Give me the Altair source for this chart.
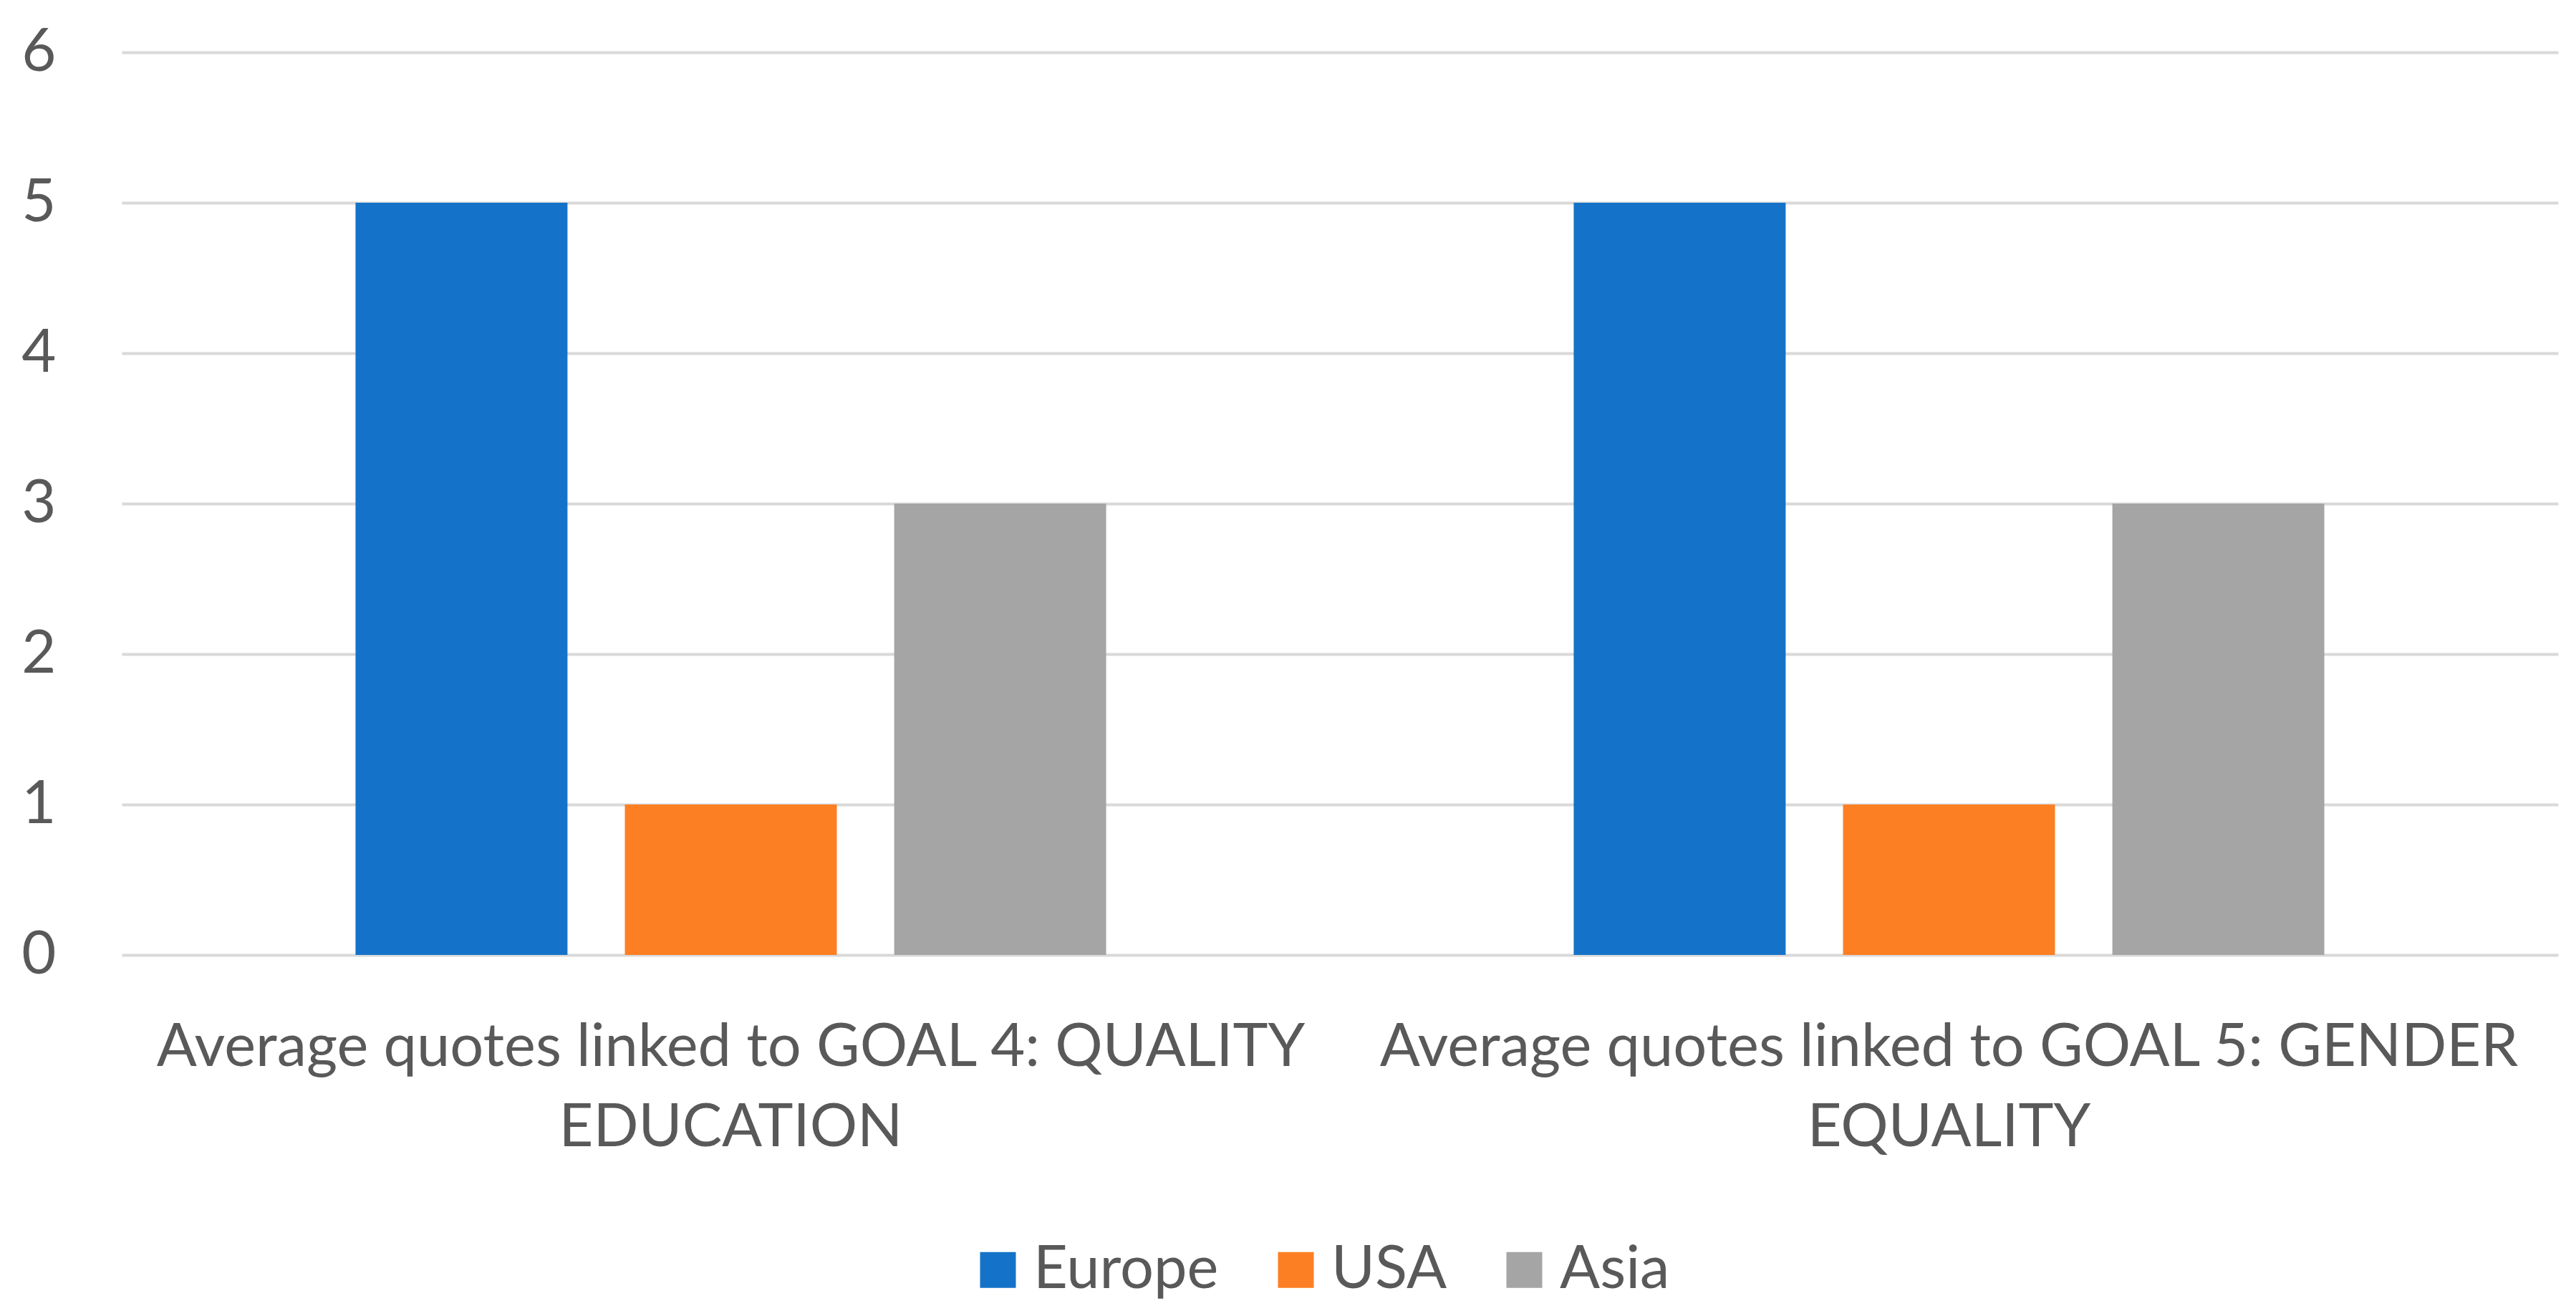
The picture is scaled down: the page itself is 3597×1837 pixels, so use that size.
import json
import altair as alt
import pandas as pd

goals = [
    "Average quotes linked to GOAL 4: QUALITY EDUCATION",
    "Average quotes linked to GOAL 5: GENDER EQUALITY",
]
goal_lines = [
    ["Average quotes linked to GOAL 4: QUALITY", "EDUCATION"],
    ["Average quotes linked to GOAL 5: GENDER", "EQUALITY"],
]
regions = ["Europe", "USA", "Asia"]
europe = [5, 5]
usa = [1, 1]
asia = [3, 3]
colors = ["#1473C8", "#FD7F23", "#A5A5A5"]
y_ticks = [0, 1, 2, 3, 4, 5, 6]

series = {"Europe": europe, "USA": usa, "Asia": asia}
rows = []
for r in regions:
    for g, v in zip(goals, series[r]):
        rows.append({"goal": g, "region": r, "value": v})
df = pd.DataFrame(rows)

label_expr = ""
for g, lines in zip(goals, goal_lines):
    label_expr += f"datum.value == {json.dumps(g)} ? {json.dumps(lines)} : "
label_expr += "datum.label"

FONT = "Lato"
TXT = "#595959"

chart = alt.Chart(df).mark_bar().encode(
    x=alt.X(
        "goal:N",
        sort=goals,
        scale=alt.Scale(paddingInner=0, paddingOuter=0),
        axis=alt.Axis(
            title=None, labelExpr=label_expr, labelAngle=0, labelFontSize=83,
            labelFont=FONT, labelColor=TXT, labelPadding=88, domain=False,
            ticks=False, labelLineHeight=112, labelLimit=0, labelBaseline="top",
        ),
    ),
    xOffset=alt.XOffset(
        "region:N", sort=regions,
        scale=alt.Scale(paddingInner=0.213, paddingOuter=0.868),
    ),
    y=alt.Y(
        "value:Q",
        scale=alt.Scale(domain=[0, 6]),
        axis=alt.Axis(
            values=y_ticks, title=None, domain=False, ticks=False,
            labelFontSize=83, labelFont=FONT, labelColor=TXT, labelPadding=92,
            gridColor="#D9D9D9", gridWidth=4,
        ),
    ),
    color=alt.Color(
        "region:N", sort=regions,
        scale=alt.Scale(domain=regions, range=colors),
        legend=alt.Legend(
            title=None, orient="none", legendX=1182, legendY=1658,
            direction="horizontal", symbolType="square", symbolSize=2500,
            symbolStrokeWidth=0, labelFontSize=83, labelFont=FONT,
            labelColor=TXT, labelOffset=8, columnPadding=66, labelLimit=0,
        ),
    ),
).properties(
    width=3402,
    height=1260,
    autosize=alt.AutoSizeParams(type="none"),
    padding={"left": 162, "top": 65, "right": 17, "bottom": 496},
    background="white",
).configure_view(stroke=None)

chart.save("out.html", embed_options={"renderer": "svg", "actions": False})
